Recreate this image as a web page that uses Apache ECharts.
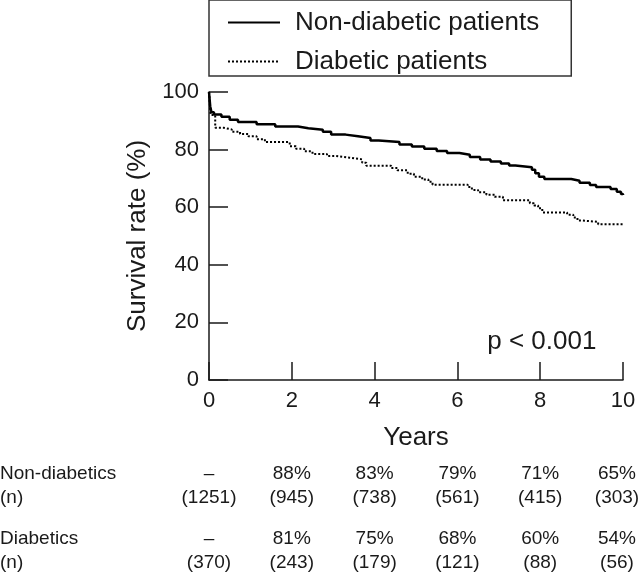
<!DOCTYPE html>
<html>
<head>
<meta charset="utf-8">
<script src="https://cdn.jsdelivr.net/npm/echarts@6/dist/echarts.min.js"></script>
<style>
  html, body { margin: 0; padding: 0; background: #fff; }
  #chart { width: 640px; height: 573px; }
</style>
</head>
<body>
<div id="chart"></div>
<script>
// 生存曲线数据 [年, 生存率%]
var nonDiabetic = [
  [0, 100], [0.03, 95], [0.06, 93], [0.12, 92.2], [0.3, 91.4], [0.5, 90.4], [0.7, 89.6],
  [1.15, 88.8], [1.6, 88.0], [2.15, 87.4], [2.4, 86.9], [2.75, 86.2], [2.95, 85.2],
  [3.3, 84.6], [3.6, 84.0], [3.9, 83.2], [4.1, 82.6], [4.6, 81.8], [4.9, 81.1],
  [5.2, 80.3], [5.5, 79.5], [5.75, 78.8], [6.05, 78.2], [6.3, 77.4], [6.55, 76.6],
  [6.8, 75.9], [7.05, 75.2], [7.25, 74.5], [7.4, 73.9], [7.8, 73.0], [7.88, 71.8],
  [7.97, 70.6], [8.1, 69.8], [8.75, 69.2], [8.95, 68.5], [9.2, 67.7], [9.35, 67.0],
  [9.7, 66.3], [9.85, 65.4], [9.95, 64.6], [10, 64.2]
];
var diabetic = [
  [0, 100], [0.04, 92], [0.15, 87.6], [0.35, 87.0], [0.55, 86.2], [0.75, 85.4],
  [0.95, 84.6], [1.15, 83.6], [1.35, 82.6], [1.95, 81.2], [2.1, 80.3], [2.3, 79.4],
  [2.5, 78.5], [2.85, 77.8], [3.05, 77.2], [3.4, 76.6], [3.7, 75.4], [3.8, 74.4],
  [4.4, 73.6], [4.55, 72.8], [4.8, 71.6], [4.95, 70.6], [5.15, 69.6], [5.3, 68.8],
  [5.4, 67.8], [6.25, 67.0], [6.35, 66.0], [6.5, 65.2], [6.7, 64.3], [6.9, 63.6],
  [7.1, 62.4], [7.75, 61.4], [7.85, 60.6], [7.95, 59.6], [8.05, 58.2], [8.65, 57.4],
  [8.8, 56.4], [8.9, 55.4], [9.0, 54.9], [9.4, 54.1], [10, 54.1]
];

// 表格数据
var tableYears = [0, 2, 4, 6, 8, 10];
var nonDiabPct = ['–', '88%', '83%', '79%', '71%', '65%'];
var nonDiabN = ['(1251)', '(945)', '(738)', '(561)', '(415)', '(303)'];
var diabPct = ['–', '81%', '75%', '68%', '60%', '54%'];
var diabN = ['(370)', '(243)', '(179)', '(121)', '(88)', '(56)'];

var FONT = '"Liberation Sans", Arial, Helvetica, sans-serif';
var INK = '#1a1a1a';

var myChart = echarts.init(document.getElementById('chart'));

var option = {
  animation: false,
  backgroundColor: '#fff',
  textStyle: { fontFamily: FONT, color: INK },
  grid: { left: 209, right: 17, top: 92, bottom: 193 },
  legend: {
    left: 209,
    top: 0,
    orient: 'vertical',
    padding: [8, 32, 0, 18],
    itemGap: 10,
    itemWidth: 52,
    itemHeight: 20,
    itemStyle: { opacity: 0 },
    borderColor: '#333',
    borderWidth: 1.5,
    textStyle: { fontSize: 26, color: INK, lineHeight: 29, padding: [0, 0, 0, 10] },
    data: ['Non-diabetic patients', 'Diabetic patients']
  },
  xAxis: {
    type: 'value',
    min: 0,
    max: 10,
    interval: 2,
    name: 'Years',
    nameLocation: 'middle',
    nameGap: 45,
    nameTextStyle: { fontSize: 26, color: INK },
    axisLine: { lineStyle: { color: INK, width: 1.5 } },
    axisTick: { inside: true, length: 18, lineStyle: { color: INK, width: 1.5 } },
    axisLabel: { fontSize: 22, color: INK, margin: 10 },
    splitLine: { show: false }
  },
  yAxis: {
    type: 'value',
    min: 0,
    max: 100,
    interval: 20,
    name: 'Survival rate (%)',
    nameLocation: 'middle',
    nameRotate: 90,
    nameGap: 58,
    nameTextStyle: { fontSize: 26, color: INK },
    axisLine: { show: true, lineStyle: { color: INK, width: 1.5 } },
    axisTick: { show: true, inside: true, length: 19, lineStyle: { color: INK, width: 1.5 } },
    axisLabel: { fontSize: 22, color: INK, margin: 10 },
    splitLine: { show: false }
  },
  series: [
    {
      name: 'Non-diabetic patients',
      type: 'line',
      step: 'end',
      symbol: 'none',
      data: nonDiabetic,
      lineStyle: { color: '#000', width: 2.5, type: 'solid' },
      itemStyle: { color: '#000' }
    },
    {
      name: 'Diabetic patients',
      type: 'line',
      step: 'end',
      symbol: 'none',
      data: diabetic,
      lineStyle: { color: '#000', width: 2, type: [2, 2] },
      itemStyle: { color: '#000' }
    }
  ]
};

myChart.setOption(option);

// 表格和 p 值文字，按坐标轴换算位置
var graphics = [];
var addText = function (text, x, y, align) {
  graphics.push({
    type: 'text',
    x: x,
    y: y,
    style: {
      text: text,
      font: '19px ' + FONT,
      fill: INK,
      align: align || 'center',
      verticalAlign: 'middle'
    }
  });
};

var rowY = [474, 498, 539, 563];
addText('Non-diabetics', 0, rowY[0], 'left');
addText('(n)', 0, rowY[1], 'left');
addText('Diabetics', 0, rowY[2], 'left');
addText('(n)', 0, rowY[3], 'left');

tableYears.forEach(function (yr, i) {
  // 最后一列靠近右边缘，往左收一点
  var px = Math.min(myChart.convertToPixel({ xAxisIndex: 0 }, yr), 617);
  addText(nonDiabPct[i], px, rowY[0]);
  addText(nonDiabN[i], px, rowY[1]);
  addText(diabPct[i], px, rowY[2]);
  addText(diabN[i], px, rowY[3]);
});

var pPos = myChart.convertToPixel({ xAxisIndex: 0, yAxisIndex: 0 }, [8.04, 13.2]);
graphics.push({
  type: 'text',
  x: pPos[0],
  y: pPos[1],
  style: {
    text: 'p < 0.001',
    font: '26px ' + FONT,
    fill: INK,
    align: 'center',
    verticalAlign: 'middle'
  }
});

myChart.setOption({ graphic: graphics });
</script>
</body>
</html>
